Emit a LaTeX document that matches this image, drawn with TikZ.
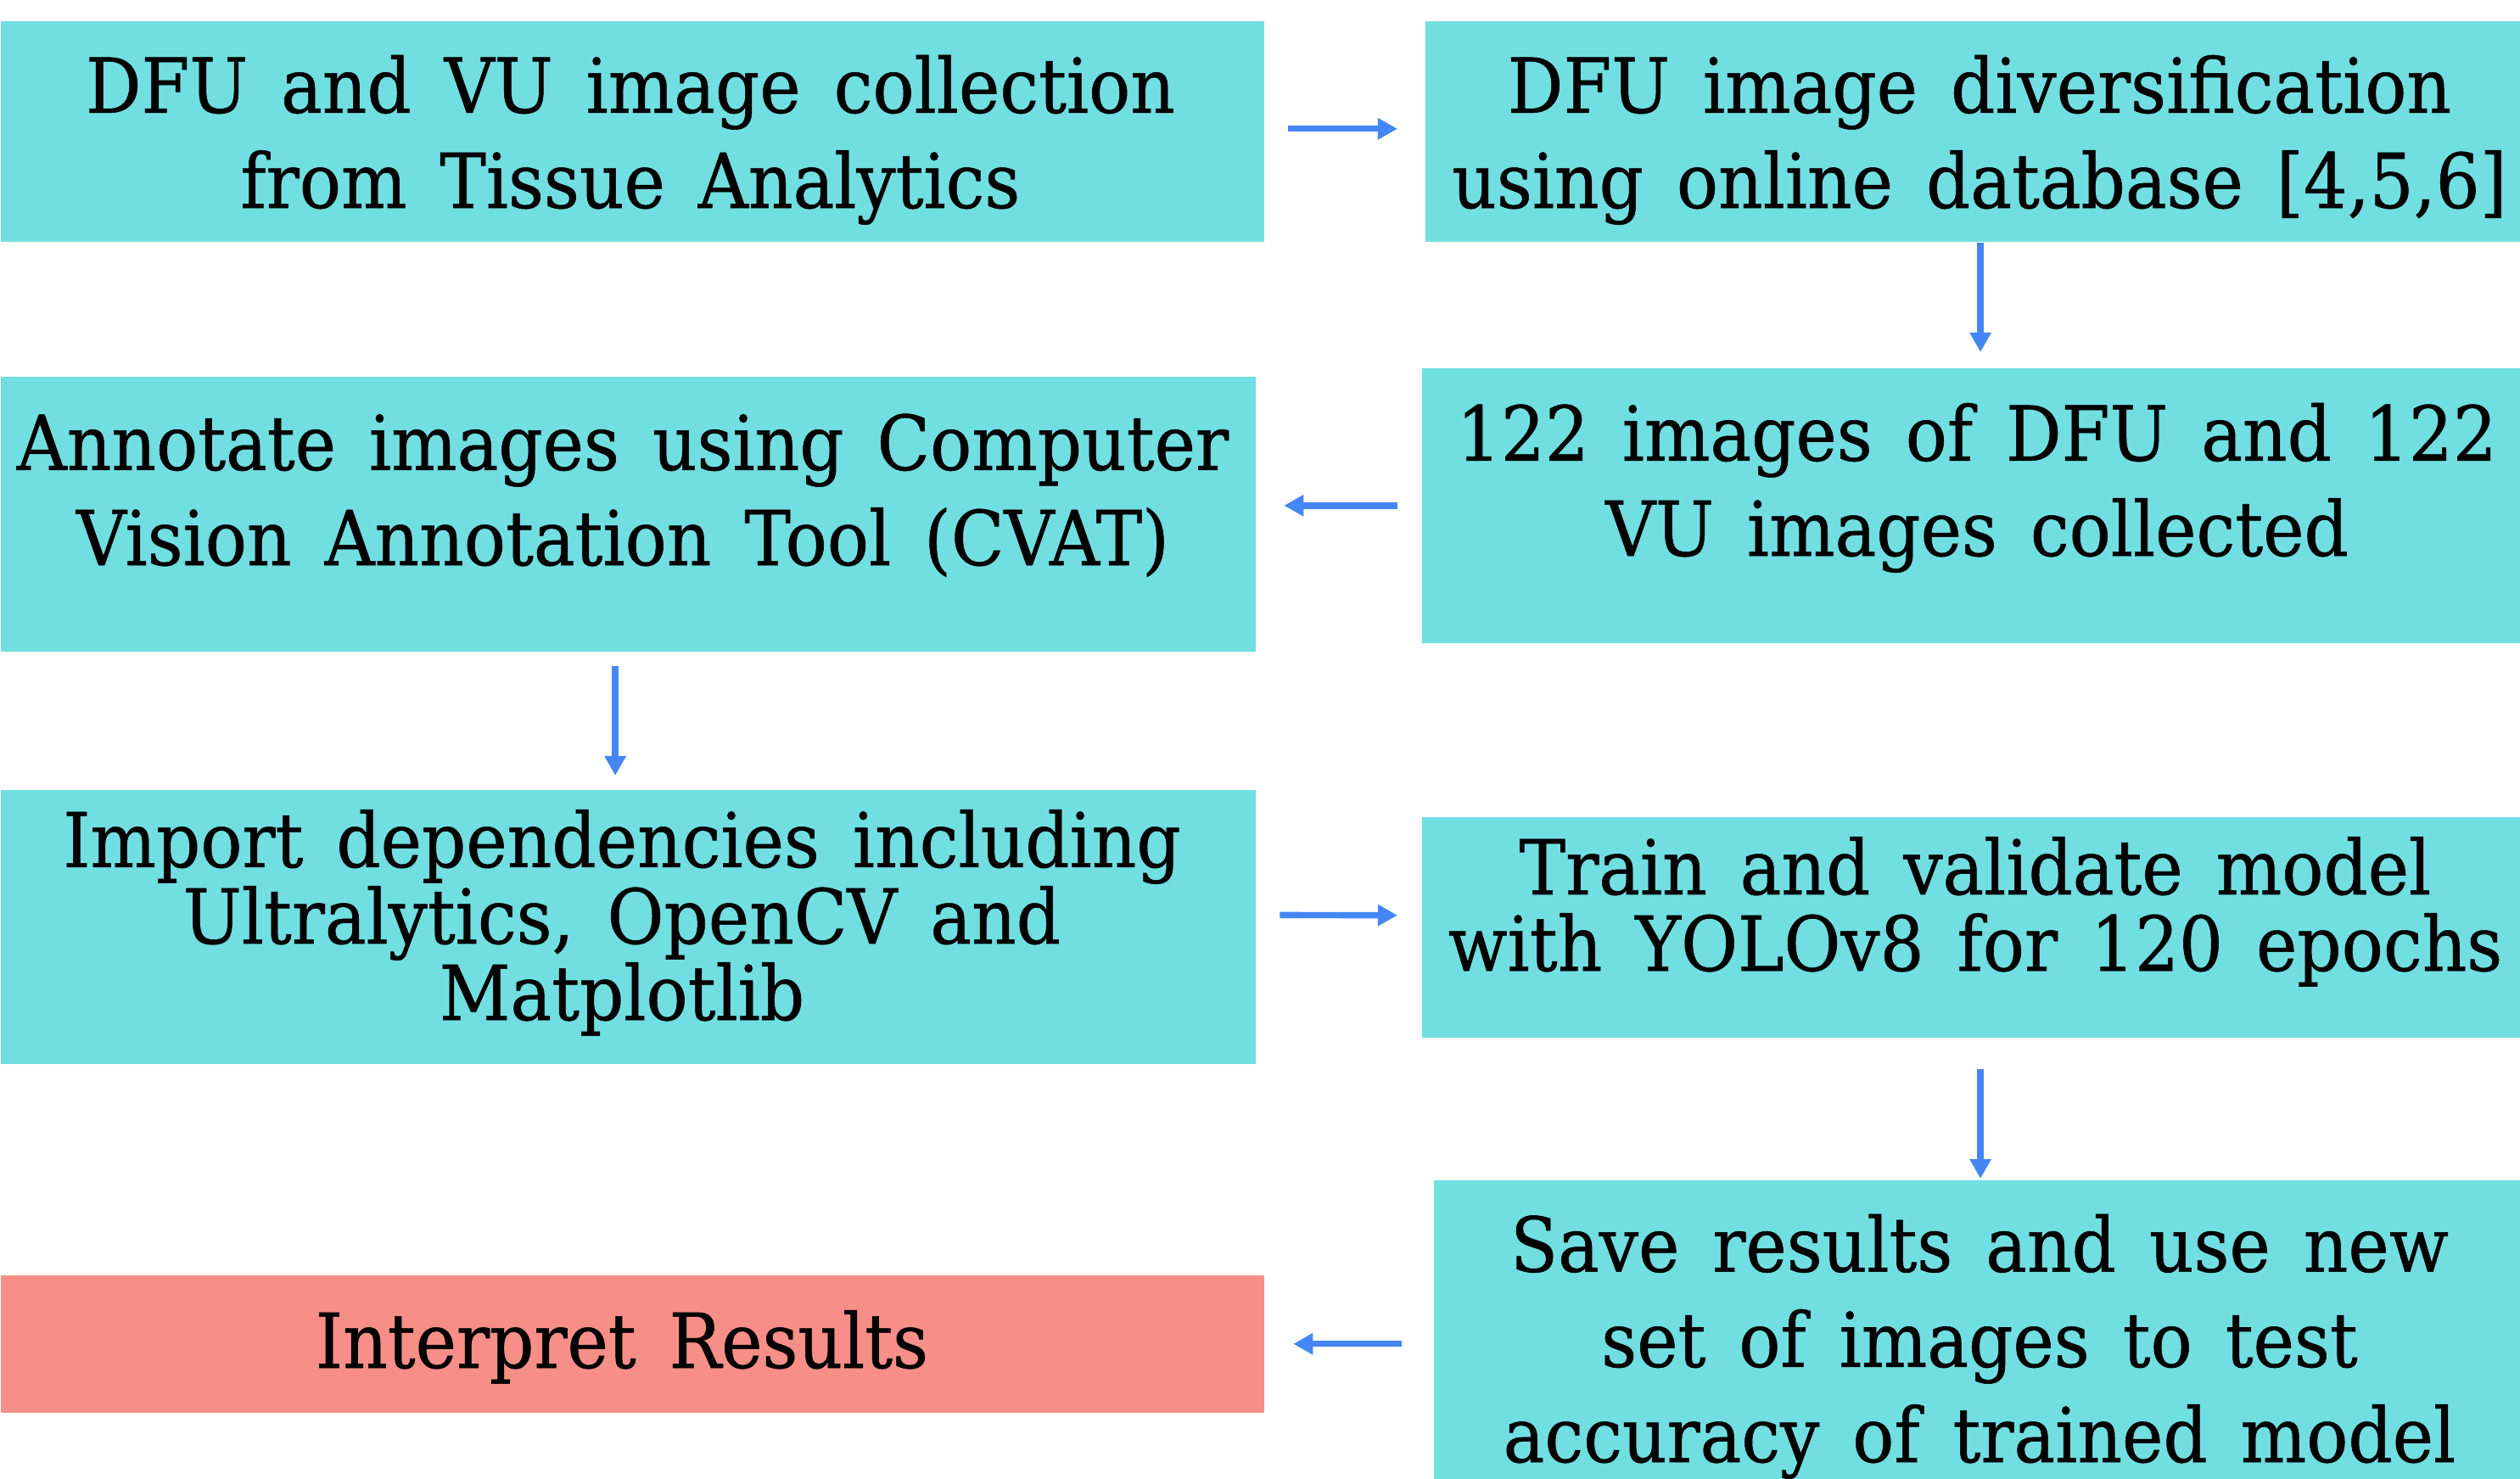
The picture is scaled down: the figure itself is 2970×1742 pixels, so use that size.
\documentclass[tikz,border=0pt]{standalone}
\usepackage{fontspec}
\usetikzlibrary{arrows.meta}
\newfontfamily\boxfont[WordSpace=1.5,FakeStretch=0.915,FakeBold=0.6]{DejaVu Serif}
\definecolor{boxcyan}{HTML}{71DFE1}
\definecolor{boxsalmon}{HTML}{F78F88}
\definecolor{arrblue}{HTML}{4487F4}
\begin{document}
\begin{tikzpicture}[x=0.01cm,y=-0.01cm,
  box/.style={fill=boxcyan,draw=none,inner sep=0pt,anchor=north west},
  endbox/.style={box,fill=boxsalmon},
  txt/.style={anchor=base,align=center,inner sep=0pt,
    font=\boxfont\fontsize{25.4}{31.9}\selectfont},
  txttight/.style={txt,font=\boxfont\fontsize{25.4}{25.6}\selectfont},
  flow/.style={draw=arrblue,line width=2.1pt,-{Triangle[length=0.23cm,width=0.24cm]}}]
\useasboundingbox (0,0) rectangle (2970,1742);
% boxes
\node[box,minimum width=14.88cm,minimum height=2.60cm] (b1) at (0,24) {};
\node[box,minimum width=12.91cm,minimum height=2.60cm] (b2) at (1679,24) {};
\node[box,minimum width=14.78cm,minimum height=3.24cm] (b3) at (0,443) {};
\node[box,minimum width=12.95cm,minimum height=3.24cm] (b4) at (1675,433) {};
\node[box,minimum width=14.78cm,minimum height=3.23cm] (b5) at (0,930) {};
\node[box,minimum width=12.95cm,minimum height=2.60cm] (b6) at (1675,962) {};
\node[box,minimum width=12.81cm,minimum height=3.52cm] (b7) at (1689,1390) {};
\node[endbox,minimum width=14.88cm,minimum height=1.62cm] (b8) at (0,1502) {};
% texts (anchor = baseline of the last line)
\node[txt] (t1) at (743,245) {DFU and VU image collection\\from Tissue Analytics};
\node[txt] (t2) at (2333,245) {DFU image diversification\\using online database [4,5,6]};
\node[txt] (t3) at (734,666) {Annotate images using Computer\\Vision Annotation Tool (CVAT)};
\node[txt] (t4) at (2330,655) {122 images of DFU and 122\\VU images collected};
\node[txttight] (t5) at (733,1202) {Import dependencies including\\Ultralytics, OpenCV and\\Matplotlib};
\node[txttight] (t6) at (2328,1144) {Train and validate model\\with YOLOv8 for 120 epochs};
\node[txt] (t7) at (2333,1723) {Save results and use new\\set of images to test\\accuracy of trained model};
\node[txt] (t8) at (733,1612) {Interpret Results};
% connectors
\draw[flow,shorten <=0.28cm,shorten >=0.32cm] ([yshift=0.03cm]b1.east) -- ([yshift=0.03cm]b2.west);
\draw[flow,shorten >=0.18cm] ([xshift=0.085cm]b2.south) -- ([xshift=0.085cm]b2.south |- b4.north);
\draw[flow,shorten <=0.28cm,shorten >=0.33cm] (b4.west) -- (b3.east |- b4.west);
\draw[flow,shorten <=0.16cm,shorten >=0.16cm] ([xshift=-0.15cm]b3.south) -- ([xshift=-0.15cm]b3.south |- b5.north);
\draw[flow,shorten <=0.28cm,shorten >=0.28cm] ([yshift=0.14cm]b5.east) -- ([yshift=0.14cm]b6.west);
\draw[flow,shorten <=0.36cm,shorten >=0.01cm] ([xshift=0.105cm]b6.south) -- ([xshift=0.105cm]b6.south |- b7.north);
\draw[flow,shorten <=0.37cm,shorten >=0.34cm] (b7.west |- b8.east) -- (b8.east);
\end{tikzpicture}
\end{document}
